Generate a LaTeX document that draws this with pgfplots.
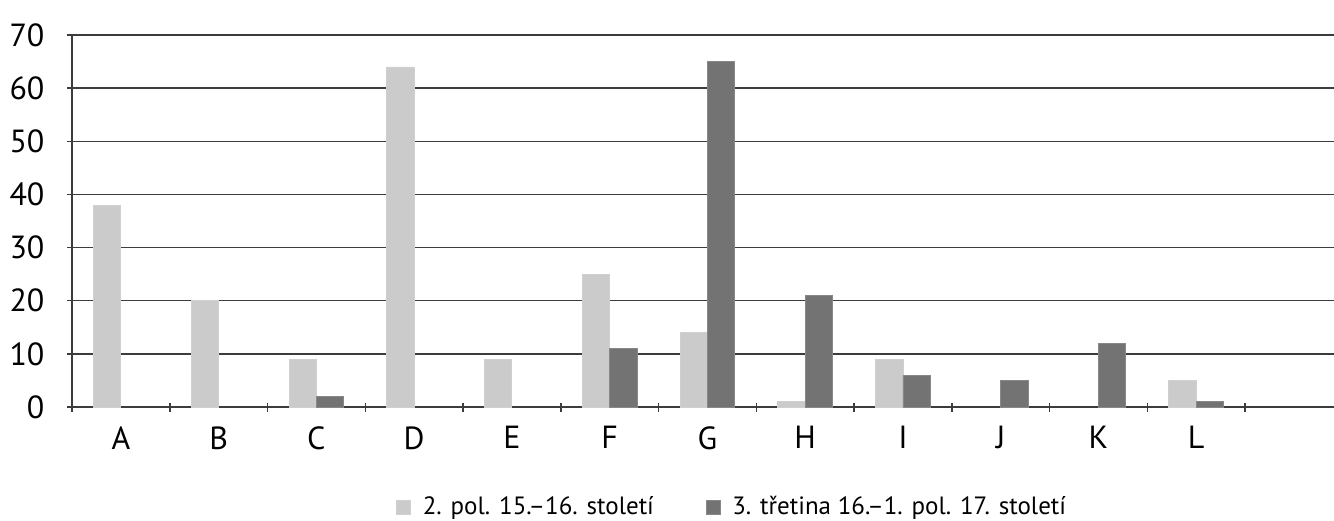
\documentclass[border=0pt]{standalone}
\usepackage{fontspec}
\setmainfont{PT Sans}
\usepackage{pgfplots}
\pgfplotsset{compat=1.18}
\definecolor{light}{HTML}{CBCBCB}
\definecolor{dark}{HTML}{737373}
\definecolor{gridc}{HTML}{3C3C3C}
\begin{document}
\begin{tikzpicture}
\path[use as bounding box] (-36pt,-56.5pt) rectangle (631pt,203.5pt);
\begin{axis}[
    width=631pt, height=186pt,
    scale only axis,
    font=\fontsize{16}{19}\selectfont,
    ybar,
    bar width=0.28,
    xmin=-0.5, xmax=12.41,
    ymin=0, ymax=70,
    ytick={0,10,...,70},
    xtick={0,...,11},
    xticklabels={A,B,C,D,E,F,G,H,I,J,K,L},
    minor xtick={-0.5,0.5,...,11.5},
    major x tick style={draw=none},
    minor x tick style={gridc, line width=0.75pt},
    minor tick length=4.5pt,
    major tick length=4.5pt,
    tick align=outside,
    ytick style={gridc, line width=0.75pt},
    axis x line=bottom,
    axis y line=left,
    axis line style={gridc, line width=0.75pt, -},
    ymajorgrids,
    major grid style={gridc, line width=0.75pt},
    xticklabel style={yshift=-4pt},
    yticklabel style={xshift=-8pt},
    /pgf/number format/assume math mode=true,
    legend columns=2,
    legend style={at={(0.524,-0.269)}, anchor=center, draw=none, fill=none,
        font=\fontsize{12.5}{15}\selectfont,
        /tikz/every even column/.append style={column sep=24pt}},
    legend image code/.code={\fill[#1] (0pt,-3.5pt) rectangle (7pt,3.5pt);
        \path[draw=none, fill=none] (7pt,0pt) -- (11pt,0pt);},
]
\addplot[fill=light, draw=light!90!white, bar shift=-0.14]
    coordinates {(0,38) (1,20) (2,9) (3,64) (4,9) (5,25) (6,14) (7,1) (8,9) (11,5)};
\addplot[fill=dark, draw=dark!85!white, bar shift=0.14]
    coordinates {(2,2) (5,11) (6,65) (7,21) (8,6) (9,5) (10,12) (11,1)};
\legend{2. pol. 15.–16. století, 3. třetina 16.–1. pol. 17. století}
\end{axis}
\end{tikzpicture}
\end{document}
